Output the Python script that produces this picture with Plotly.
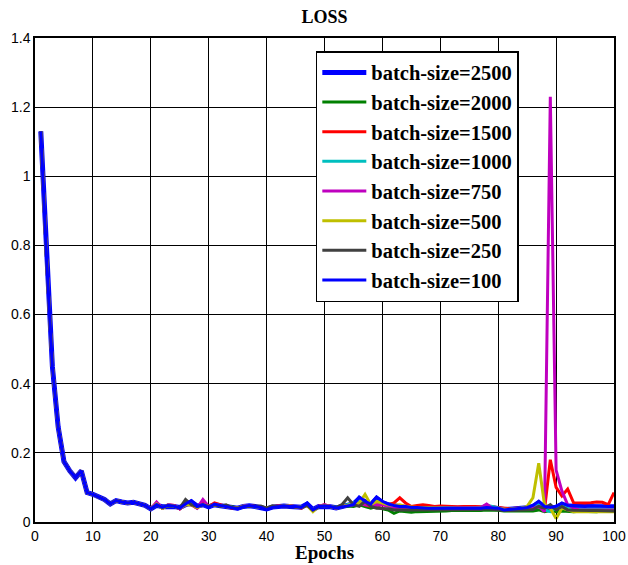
import plotly.graph_objects as go

epochs = list(range(1, 101))

# shared early part (epochs 1-20)
head = [1.13, 0.76, 0.45, 0.275, 0.175, 0.148, 0.128, 0.148, 0.085, 0.08,
        0.072, 0.065, 0.052, 0.062, 0.058, 0.055, 0.057, 0.053, 0.048, 0.038]

tail_2500 = [0.048,0.044,0.046,0.045,0.042,0.05,0.058,0.046,0.05,0.044,
             0.05,0.047,0.045,0.043,0.04,0.045,0.047,0.045,0.043,0.038,
             0.043,0.045,0.046,0.045,0.044,0.043,0.052,0.036,0.045,0.045,
             0.044,0.041,0.045,0.048,0.052,0.068,0.058,0.05,0.068,0.055,
             0.05,0.046,0.044,0.043,0.042,0.041,0.04,0.04,0.04,0.04,
             0.04,0.04,0.039,0.039,0.04,0.04,0.04,0.043,0.04,0.039,
             0.036,0.037,0.038,0.039,0.041,0.045,0.055,0.044,0.04,0.043,
             0.05,0.046,0.045,0.044,0.044,0.045,0.044,0.044,0.044,0.044]
tail_2000 = [0.052,0.04,0.048,0.047,0.038,0.05,0.05,0.044,0.052,0.045,
             0.05,0.046,0.046,0.044,0.04,0.046,0.046,0.045,0.044,0.04,
             0.044,0.046,0.045,0.046,0.044,0.044,0.048,0.034,0.044,0.048,
             0.045,0.04,0.044,0.046,0.045,0.05,0.045,0.04,0.045,0.038,
             0.035,0.025,0.032,0.03,0.028,0.03,0.03,0.031,0.032,0.032,
             0.032,0.033,0.033,0.032,0.034,0.034,0.033,0.035,0.035,0.034,
             0.032,0.032,0.033,0.032,0.034,0.032,0.035,0.03,0.033,0.03,
             0.032,0.03,0.03,0.031,0.03,0.03,0.03,0.032,0.032,0.032]
tail_1500 = [0.055,0.04,0.05,0.048,0.038,0.052,0.05,0.04,0.055,0.045,
             0.055,0.05,0.045,0.04,0.04,0.046,0.048,0.045,0.043,0.04,
             0.044,0.046,0.045,0.047,0.044,0.04,0.05,0.035,0.045,0.05,
             0.045,0.04,0.045,0.048,0.05,0.055,0.05,0.045,0.05,0.05,
             0.05,0.055,0.07,0.055,0.045,0.048,0.05,0.048,0.045,0.046,
             0.045,0.046,0.044,0.045,0.046,0.045,0.044,0.045,0.044,0.042,
             0.04,0.038,0.04,0.04,0.04,0.04,0.045,0.035,0.18,0.1,
             0.075,0.095,0.056,0.055,0.055,0.056,0.058,0.057,0.05,0.085]
tail_1000 = [0.05,0.042,0.05,0.046,0.04,0.05,0.055,0.044,0.05,0.044,
             0.05,0.048,0.045,0.042,0.04,0.046,0.047,0.044,0.042,0.04,
             0.044,0.045,0.045,0.046,0.045,0.043,0.05,0.036,0.045,0.047,
             0.045,0.042,0.046,0.05,0.055,0.06,0.055,0.05,0.06,0.055,
             0.05,0.045,0.045,0.043,0.042,0.042,0.041,0.04,0.04,0.041,
             0.042,0.041,0.04,0.04,0.041,0.042,0.043,0.048,0.045,0.04,
             0.036,0.037,0.038,0.04,0.042,0.045,0.05,0.035,0.03,0.04,
             0.045,0.04,0.04,0.04,0.041,0.04,0.04,0.04,0.04,0.04]
tail_750 = [0.058,0.04,0.05,0.048,0.038,0.05,0.05,0.04,0.065,0.045,
            0.05,0.048,0.045,0.042,0.04,0.046,0.047,0.045,0.043,0.04,
            0.044,0.046,0.045,0.047,0.045,0.042,0.05,0.034,0.046,0.05,
            0.045,0.04,0.046,0.048,0.05,0.055,0.05,0.048,0.05,0.05,
            0.046,0.04,0.042,0.04,0.04,0.041,0.04,0.04,0.04,0.04,
            0.04,0.04,0.04,0.041,0.042,0.042,0.042,0.052,0.04,0.038,
            0.036,0.036,0.037,0.038,0.04,0.04,0.045,0.03,1.23,0.15,
            0.09,0.05,0.04,0.035,0.035,0.036,0.035,0.035,0.035,0.035]
tail_500 = [0.052,0.04,0.048,0.046,0.04,0.05,0.05,0.042,0.05,0.045,
            0.05,0.047,0.045,0.042,0.04,0.045,0.046,0.045,0.043,0.04,
            0.044,0.045,0.045,0.046,0.044,0.042,0.048,0.03,0.045,0.047,
            0.045,0.04,0.045,0.048,0.05,0.055,0.08,0.05,0.06,0.055,
            0.05,0.048,0.05,0.045,0.043,0.042,0.042,0.041,0.04,0.04,
            0.04,0.04,0.04,0.04,0.04,0.04,0.04,0.042,0.04,0.038,
            0.036,0.036,0.038,0.04,0.045,0.07,0.17,0.05,0.04,0.01,
            0.04,0.035,0.03,0.03,0.03,0.03,0.028,0.028,0.03,0.03]
tail_250 = [0.05,0.042,0.048,0.046,0.04,0.065,0.05,0.045,0.05,0.045,
            0.05,0.046,0.05,0.042,0.04,0.045,0.046,0.045,0.046,0.04,
            0.047,0.045,0.045,0.046,0.044,0.042,0.048,0.035,0.044,0.046,
            0.045,0.042,0.05,0.07,0.05,0.045,0.06,0.045,0.04,0.04,
            0.038,0.035,0.036,0.035,0.035,0.035,0.035,0.035,0.035,0.036,
            0.036,0.036,0.036,0.035,0.036,0.035,0.036,0.038,0.036,0.035,
            0.033,0.033,0.034,0.034,0.035,0.036,0.045,0.04,0.05,0.035,
            0.045,0.035,0.034,0.033,0.033,0.033,0.033,0.032,0.032,0.032]
tail_100 = [0.05,0.042,0.048,0.046,0.04,0.052,0.062,0.045,0.05,0.042,
            0.052,0.048,0.045,0.042,0.038,0.044,0.048,0.045,0.042,0.036,
            0.042,0.044,0.046,0.045,0.045,0.042,0.055,0.035,0.045,0.046,
            0.045,0.04,0.044,0.048,0.05,0.072,0.06,0.052,0.072,0.06,
            0.052,0.048,0.045,0.045,0.042,0.042,0.04,0.04,0.04,0.04,
            0.04,0.04,0.04,0.039,0.04,0.04,0.04,0.042,0.04,0.04,
            0.035,0.036,0.038,0.04,0.042,0.048,0.06,0.045,0.042,0.045,
            0.055,0.048,0.046,0.045,0.045,0.046,0.045,0.045,0.045,0.045]

labels = ["batch-size=2500", "batch-size=2000", "batch-size=1500", "batch-size=1000",
          "batch-size=750", "batch-size=500", "batch-size=250", "batch-size=100"]
tails = [tail_2500, tail_2000, tail_1500, tail_1000, tail_750, tail_500, tail_250, tail_100]
colors = ["#0000FF", "#008000", "#FF0000", "#00BFBF", "#BF00BF", "#BFBF00", "#404040", "#0000FF"]
widths = [5, 3, 3, 3, 3, 3, 3, 3]

serif = "Times New Roman, Liberation Serif, DejaVu Serif, serif"

fig = go.Figure()
for lab, tl, c, w in zip(labels, tails, colors, widths):
    fig.add_trace(go.Scatter(x=epochs, y=head + tl, mode="lines", name="<b>" + lab + "</b>",
                             line=dict(color=c, width=w)))

axis_common = dict(showgrid=True, gridcolor="#000000", gridwidth=1,
                   showline=True, linecolor="#000000", linewidth=1.5, mirror=True,
                   ticks="inside", ticklen=5, tickcolor="#000000",
                   tickfont=dict(family="Liberation Sans, Arial", size=14, color="#000"),
                   zeroline=False, automargin=False)

fig.update_layout(
    width=628, height=565,
    margin=dict(l=35, r=14, t=38, b=43),
    paper_bgcolor="white", plot_bgcolor="white",
    title=dict(text="<b>LOSS</b>", x=0.5, xref="paper", y=0.97, yref="container",
               xanchor="center", yanchor="middle",
               font=dict(family=serif, size=18, color="#000")),
    xaxis=dict(range=[0, 100], dtick=10, tick0=0, **axis_common),
    yaxis=dict(range=[0, 1.4], dtick=0.2, tick0=0, **axis_common),
    legend=dict(x=0.485, y=0.973, xanchor="left", yanchor="top",
                bgcolor="white", bordercolor="#000000", borderwidth=1.5,
                font=dict(family=serif, size=20.5, color="#000"),
                itemwidth=44, traceorder="normal"),
    showlegend=True,
    annotations=[dict(text="<b>Epochs</b>", x=0.5, xref="paper", y=-0.064, yref="paper",
                      yanchor="middle", showarrow=False,
                      font=dict(family=serif, size=19, color="#000"))],
)

fig.write_html("out.html")
